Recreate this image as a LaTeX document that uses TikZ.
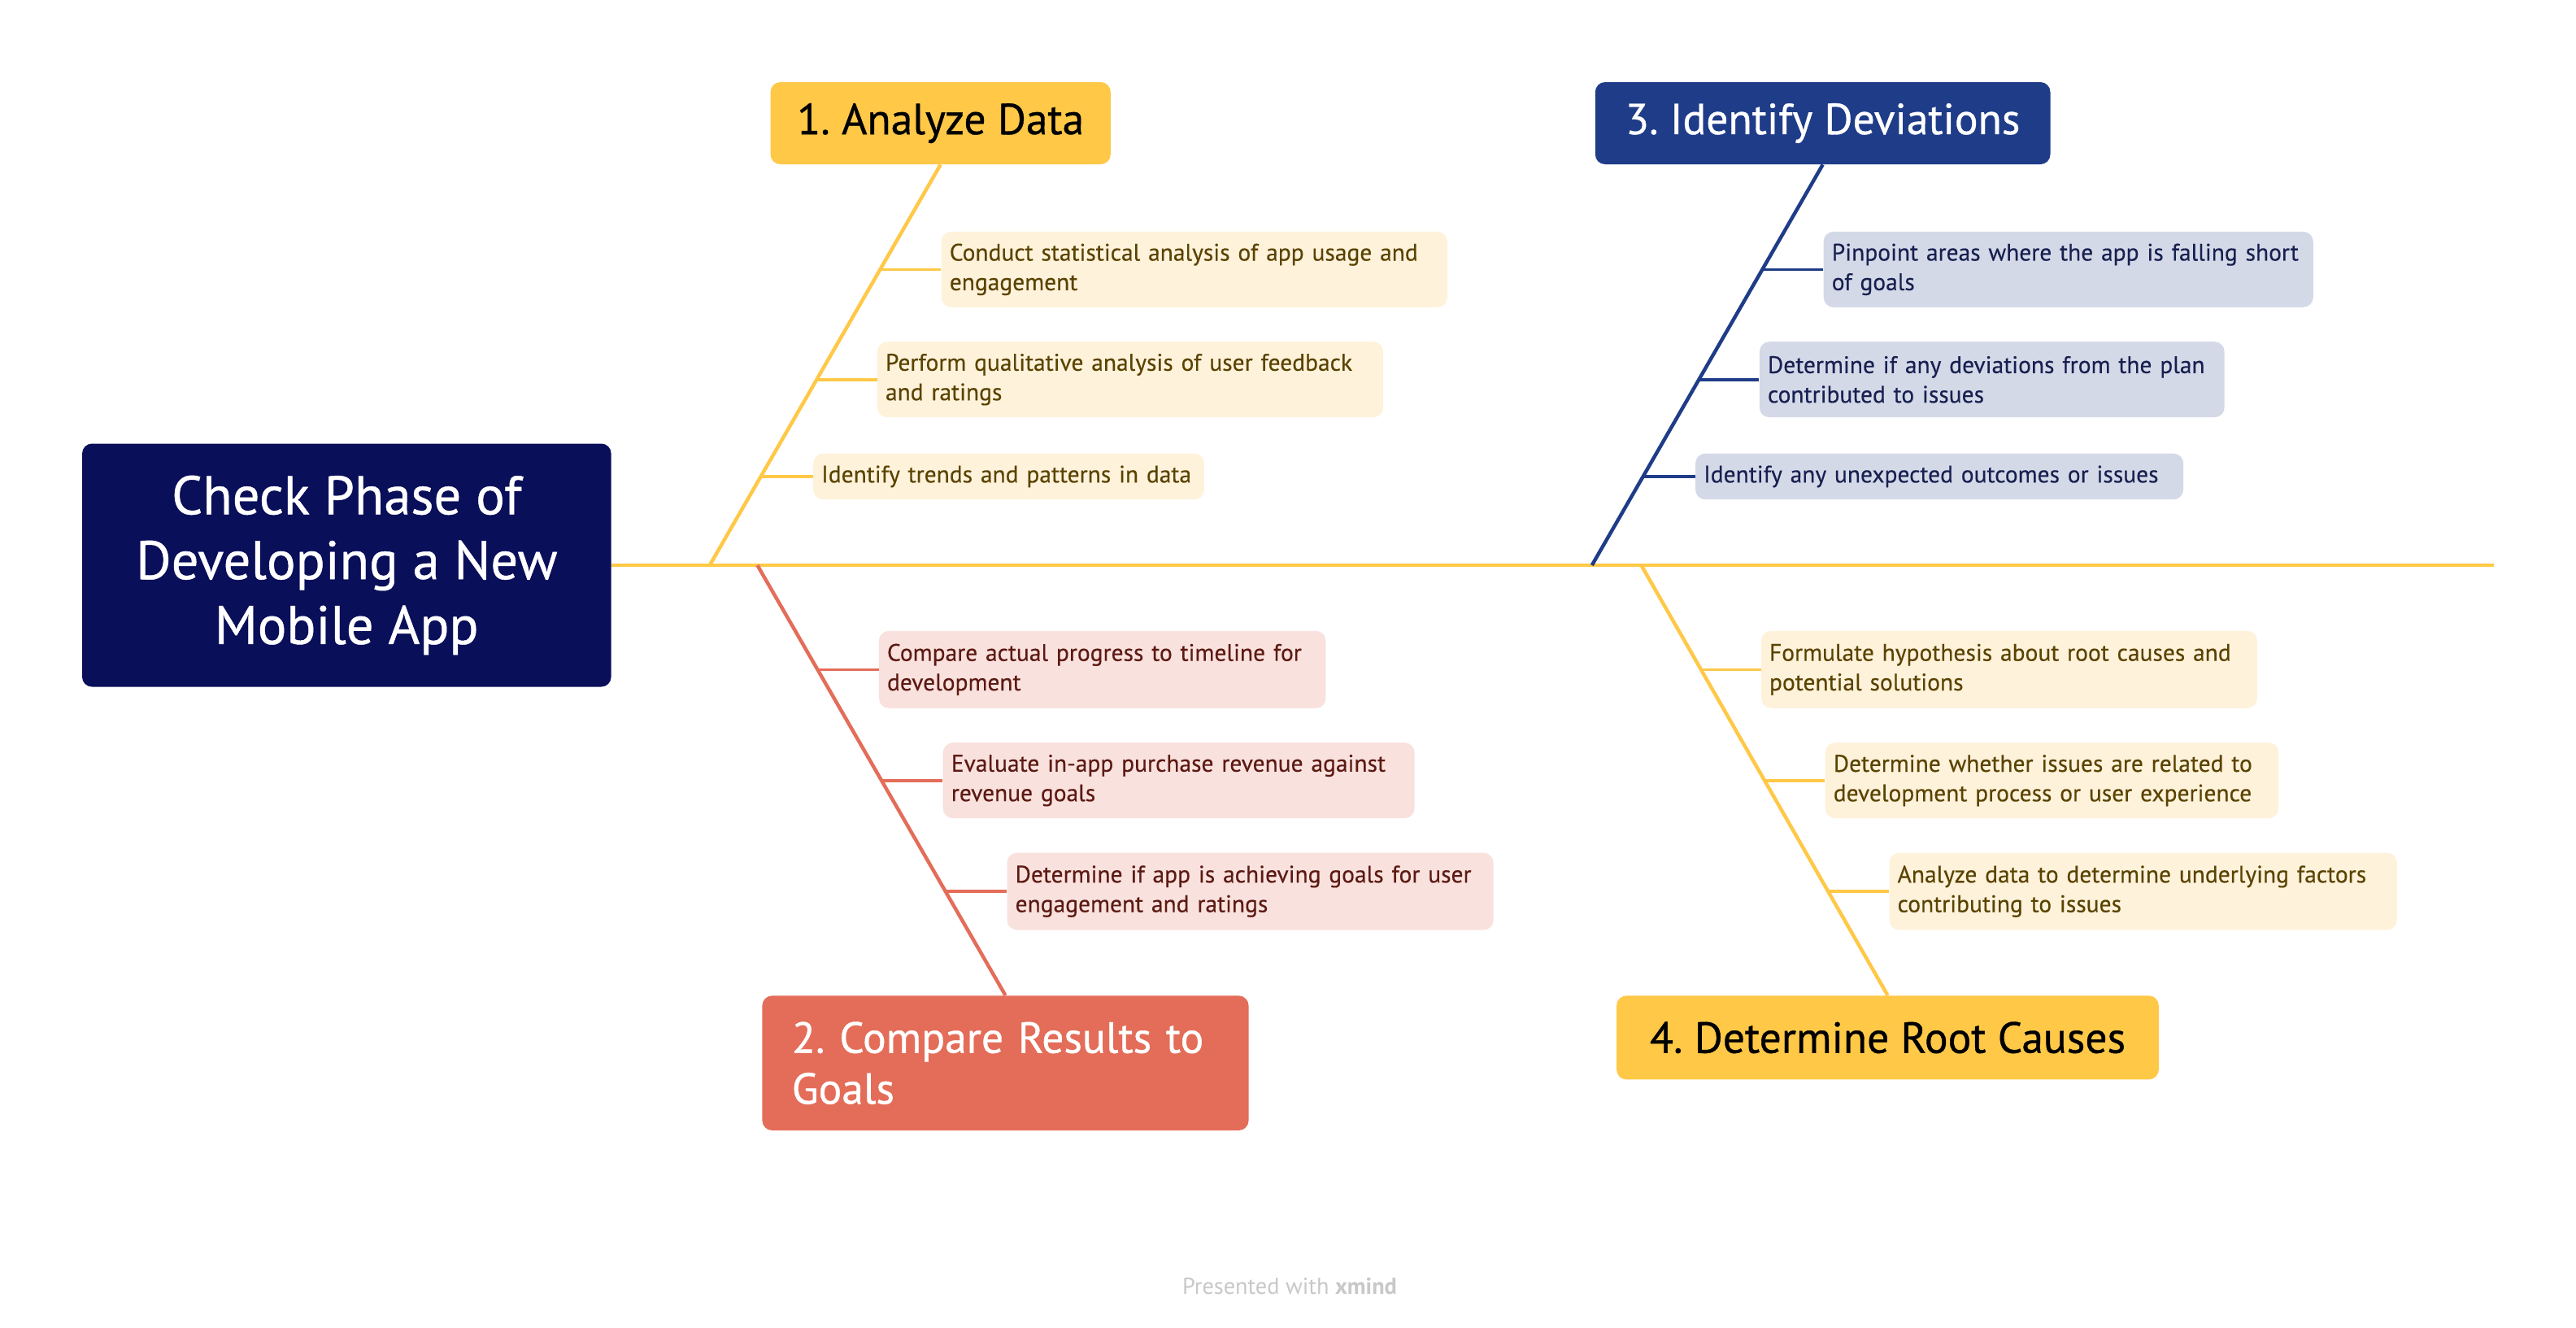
\documentclass[tikz,border=0pt]{standalone}
\usepackage{fontspec}
\setmainfont{PT Sans}
\newfontfamily\medfont{PT Sans}[FakeBold=0.7]
\newfontfamily\subfont{PT Sans}[FakeBold=0.3]
\frenchspacing
\definecolor{rootnavy}{HTML}{0A0F5A}
\definecolor{yel}{HTML}{FFC847}
\definecolor{blu}{HTML}{1F3C88}
\definecolor{sal}{HTML}{E46D59}
\definecolor{yelbg}{HTML}{FFF2DB}
\definecolor{yeltx}{HTML}{5A4300}
\definecolor{blubg}{HTML}{D4D9E8}
\definecolor{blutx}{HTML}{17204F}
\definecolor{salbg}{HTML}{F9E1DE}
\definecolor{saltx}{HTML}{5C1A12}
\definecolor{footgray}{HTML}{C8C8C8}
\tikzset{
	topic/.style={rounded corners=6pt, inner xsep=0pt, inner ysep=0pt, align=center, font=\medfont\fontsize{26.5}{31}\selectfont},
	subbox/.style={rounded corners=6pt, inner xsep=5pt, inner ysep=0pt, text width=#1, align=left, minimum height=46pt, font=\subfont\fontsize{14.6}{18}\selectfont},
	bone/.style={line width=2.2pt},
	twig/.style={line width=1.8pt},
}
\begin{document}
\begin{tikzpicture}[x=1pt,y=-1pt]
	\useasboundingbox (0,0) rectangle (1568,808);
	\node[fill=rootnavy, text=white, rounded corners=6pt, minimum width=322pt, minimum height=148pt, align=center, font=\medfont\fontsize{33}{39.5}\selectfont] (root) at (211,344) {Check Phase of\\Developing a New\\Mobile App};
	\node[topic, fill=yel, text=black, minimum width=207pt, minimum height=50pt] (t1) at (572.5,75) {1. Analyze Data};
	\node[topic, fill=blu, text=white, minimum width=277pt, minimum height=50pt] (t3) at (1109.5,75) {3. Identify Deviations};
	\node[topic, fill=sal, text=white, align=left, text width=260pt, inner xsep=18pt, minimum height=82pt] (t2) at (612,647) {2. Compare Results to\\Goals};
	\node[topic, fill=yel, text=black, minimum width=330pt, minimum height=51pt] (t4) at (1149,631.5) {4. Determine Root Causes};

	\node[subbox=298pt, fill=yelbg, text=yeltx] (s11) at (727,164) {Conduct statistical analysis of app usage and\\engagement};
	\node[subbox=298pt, fill=yelbg, text=yeltx] (s12) at (688,231) {Perform qualitative analysis of user feedback\\and ratings};
	\node[subbox=228pt, fill=yelbg, text=yeltx, minimum height=28pt] (s13) at (614,290) {Identify trends and patterns in data};
	\node[subbox=288pt, fill=blubg, text=blutx] (s31) at (1259,164) {Pinpoint areas where the app is falling short\\of goals};
	\node[subbox=273pt, fill=blubg, text=blutx] (s32) at (1212.5,231) {Determine if any deviations from the plan\\contributed to issues};
	\node[subbox=287pt, fill=blubg, text=blutx, minimum height=28pt] (s33) at (1180.5,290) {Identify any unexpected outcomes or issues};
	\node[subbox=262pt, fill=salbg, text=saltx, minimum height=47pt] (s21) at (671,407.5) {Compare actual progress to timeline for\\development};
	\node[subbox=277pt, fill=salbg, text=saltx] (s22) at (717.5,475) {Evaluate in-app purchase revenue against\\revenue goals};
	\node[subbox=286pt, fill=salbg, text=saltx, minimum height=47pt] (s23) at (761,542.5) {Determine if app is achieving goals for user\\engagement and ratings};
	\node[subbox=292pt, fill=yelbg, text=yeltx, minimum height=47pt] (s41) at (1223,407.5) {Formulate hypothesis about root causes and\\potential solutions};
	\node[subbox=266pt, fill=yelbg, text=yeltx] (s42) at (1249,475) {Determine whether issues are related to\\development process or user experience};
	\node[subbox=299pt, fill=yelbg, text=yeltx, minimum height=47pt] (s43) at (1304.5,542.5) {Analyze data to determine underlying factors\\contributing to issues};

	\node[text=footgray, font=\fontsize{14}{16}\selectfont] (foot) at (785,783) {Presented with \textbf{xmind}};

	\coordinate (tail) at (1518,344);
	\coordinate (j1) at (432,344);
	\coordinate (j2) at (461,344);
	\coordinate (j3) at (969,344);
	\coordinate (j4) at (999,344);
	\coordinate (k11) at (535.6,164);
	\coordinate (k12) at (497.1,231);
	\coordinate (k13) at (463.1,290);
	\coordinate (k31) at (1072.6,164);
	\coordinate (k32) at (1034.1,231);
	\coordinate (k33) at (1000.1,290);
	\coordinate (k21) at (497.3,407.5);
	\coordinate (k22) at (536.5,475);
	\coordinate (k23) at (575.1,542.5);
	\coordinate (k41) at (1035.1,407.5);
	\coordinate (k42) at (1074,475);
	\coordinate (k43) at (1112.4,542.5);

	\draw[bone, yel] (root.east) -- (tail);
	\draw[bone, yel] (j1) -- (t1.south);
	\draw[bone, sal] (j2) -- (t2.north);
	\draw[bone, blu] (j3) -- (t3.south);
	\draw[bone, yel] (j4) -- (t4.north);
	\draw[twig, yel] (k11) -- (s11.west);
	\draw[twig, yel] (k12) -- (s12.west);
	\draw[twig, yel] (k13) -- (s13.west);
	\draw[twig, blu] (k31) -- (s31.west);
	\draw[twig, blu] (k32) -- (s32.west);
	\draw[twig, blu] (k33) -- (s33.west);
	\draw[twig, sal] (k21) -- (s21.west);
	\draw[twig, sal] (k22) -- (s22.west);
	\draw[twig, sal] (k23) -- (s23.west);
	\draw[twig, yel] (k41) -- (s41.west);
	\draw[twig, yel] (k42) -- (s42.west);
	\draw[twig, yel] (k43) -- (s43.west);
\end{tikzpicture}
\end{document}
